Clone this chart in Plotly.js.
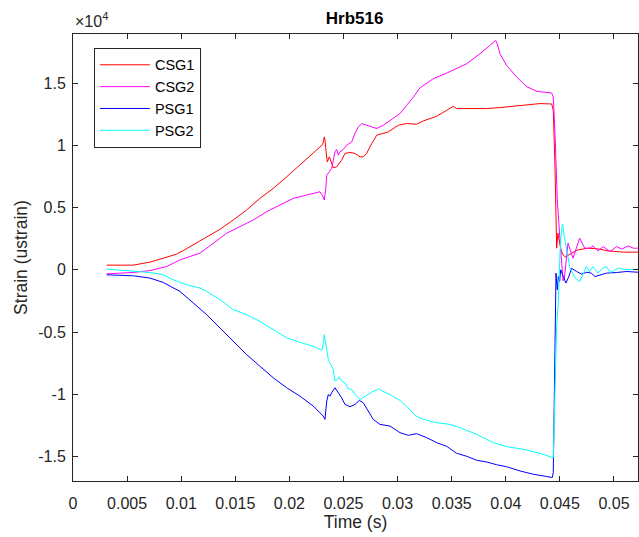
<!DOCTYPE html>
<html>
<head>
<meta charset="utf-8">
<script src="https://cdn.plot.ly/plotly-3.0.1.min.js"></script>
<style>html,body{margin:0;padding:0;background:#fff;}#chart{width:639px;height:537px;}</style>
</head>
<body>
<div id="chart"></div>
<script>
const seriesNames = ["CSG1", "CSG2", "PSG1", "PSG2"];

const csg1T = [0.00311,0.00557,0.00712,0.00835,0.00958,0.01019,0.01112,0.01236,0.01359,0.01481,0.01605,0.01728,0.01851,0.01975,0.02098,0.02221,0.02283,0.02308,0.02323,0.02329,0.02338,0.02350,0.02369,0.02382,0.02391,0.02406,0.02437,0.02483,0.02514,0.02560,0.02606,0.02653,0.02683,0.02714,0.02761,0.02807,0.02914,0.03007,0.03084,0.03176,0.03237,0.03361,0.03454,0.03515,0.03546,0.03669,0.03823,0.03946,0.04069,0.04193,0.04316,0.04424,0.04439,0.04455,0.04464,0.04470,0.04482,0.04498,0.04510,0.04529,0.04550,0.04609,0.04667,0.04760,0.04852,0.04945,0.05086,0.05231];
const csg1V = [377,377,617,937,1258,1547,2003,2620,3261,4007,4808,5745,6547,7476,8414,9351,9880,10072,10681,10417,9616,8678,9079,8814,8550,8197,8277,8814,9351,9431,9351,9079,9079,9351,10152,10818,11082,11619,11755,11699,11963,12340,12821,13141,12957,12957,12957,13037,13141,13278,13358,13326,12821,8277,4007,1739,2941,2139,1603,1202,1040,1338,1603,1739,1683,1522,1418,1418];

const csg2T = [0.00311,0.00557,0.00712,0.00866,0.00989,0.01174,0.01297,0.01420,0.01543,0.01666,0.01790,0.01913,0.02036,0.02160,0.02283,0.02308,0.02323,0.02338,0.02345,0.02369,0.02391,0.02406,0.02421,0.02437,0.02452,0.02468,0.02498,0.02530,0.02576,0.02606,0.02637,0.02668,0.02714,0.02745,0.02807,0.02868,0.02930,0.03022,0.03084,0.03145,0.03207,0.03330,0.03454,0.03546,0.03639,0.03761,0.03854,0.03907,0.03921,0.03946,0.04008,0.04101,0.04193,0.04286,0.04424,0.04439,0.04455,0.04476,0.04501,0.04529,0.04542,0.04575,0.04621,0.04683,0.04729,0.04775,0.04806,0.04852,0.04901,0.04963,0.05025,0.05071,0.05132,0.05178,0.05231];
const csg2V = [-321,-216,-56,264,801,1338,2139,2941,3470,4007,4672,5208,5745,6010,6274,5930,5609,6675,7612,7877,8149,8814,9479,9672,9215,9479,9672,10016,10281,10954,11483,11755,11619,11483,11354,11619,12020,12556,13222,13862,14624,15361,15810,16162,16563,17364,18029,18430,18165,17364,16427,15489,14720,14343,14207,13887,10954,5609,2404,-881,-641,2139,938,2540,1739,1739,1923,1522,1867,1466,1867,1659,1923,1739,1739];

const psg1T = [0.00311,0.00557,0.00712,0.00835,0.00989,0.01112,0.01236,0.01359,0.01481,0.01605,0.01728,0.01851,0.01975,0.02098,0.02221,0.02313,0.02329,0.02345,0.02360,0.02375,0.02391,0.02421,0.02452,0.02483,0.02514,0.02560,0.02606,0.02646,0.02683,0.02729,0.02775,0.02837,0.02930,0.03022,0.03099,0.03176,0.03269,0.03361,0.03454,0.03546,0.03639,0.03731,0.03823,0.03916,0.04008,0.04131,0.04254,0.04378,0.04430,0.04439,0.04455,0.04464,0.04476,0.04486,0.04498,0.04507,0.04532,0.04556,0.04578,0.04609,0.04655,0.04701,0.04748,0.04790,0.04824,0.04870,0.04932,0.05025,0.05117,0.05231];
const psg1V = [-401,-481,-665,-1018,-1739,-2668,-3606,-4672,-5745,-6811,-7749,-8678,-9479,-10152,-10954,-11755,-12020,-10553,-10016,-10152,-9880,-9479,-9880,-10281,-10818,-11002,-10818,-10497,-10681,-11354,-12020,-12420,-12556,-13085,-13302,-13165,-13486,-13887,-14183,-14744,-14984,-15305,-15441,-15665,-15826,-16162,-16427,-16611,-16691,-16291,-7212,-264,-1603,-537,-938,0,-537,-1066,-641,120,-136,-345,-200,-264,-537,-401,-264,-216,-136,-200];

const psg2T = [0.00311,0.00557,0.00712,0.00835,0.00927,0.01051,0.01174,0.01236,0.01359,0.01481,0.01605,0.01728,0.01851,0.01975,0.02098,0.02221,0.02299,0.02313,0.02323,0.02338,0.02360,0.02382,0.02406,0.02421,0.02443,0.02461,0.02483,0.02514,0.02544,0.02576,0.02606,0.02653,0.02699,0.02761,0.02822,0.02884,0.02945,0.03022,0.03084,0.03161,0.03237,0.03361,0.03484,0.03577,0.03731,0.03884,0.04008,0.04162,0.04316,0.04439,0.04455,0.04470,0.04486,0.04501,0.04515,0.04526,0.04538,0.04561,0.04593,0.04639,0.04683,0.04713,0.04744,0.04775,0.04806,0.04852,0.04898,0.04932,0.04963,0.05040,0.05117,0.05231];
const psg2V = [56,-80,-216,-401,-801,-1202,-1466,-1739,-2404,-3205,-3606,-4143,-4808,-5473,-5825,-6146,-6467,-6010,-5208,-6146,-7212,-7612,-8013,-8951,-8814,-8598,-8951,-9079,-9559,-9616,-10016,-10417,-10152,-9832,-9576,-9832,-10096,-10497,-10954,-11699,-12020,-12284,-12420,-12685,-13222,-13887,-14207,-14423,-14744,-15104,-9856,-4543,-2644,1362,3205,3686,2804,1603,160,-641,-938,-401,264,-136,264,-264,136,264,-216,136,0,56];

const xTickVals = [0,0.005,0.01,0.015,0.02,0.025,0.03,0.035,0.04,0.045,0.05];
const xTickText = ["0","0.005","0.01","0.015","0.02","0.025","0.03","0.035","0.04","0.045","0.05"];
const yTickVals = [-15000,-10000,-5000,0,5000,10000,15000];
const yTickText = ["-1.5","-1","-0.5","0","0.5","1","1.5"];

const colors = ["#ff0000","#ff00ff","#0000ff","#00ffff"];
const xs = [csg1T, csg2T, psg1T, psg2T];
const ys = [csg1V, csg2V, psg1V, psg2V];

const traces = seriesNames.map((n,i)=>({
  x: xs[i], y: ys[i], name: n, type: "scatter", mode: "lines",
  line: {color: colors[i], width: 1}
}));

const FONT = "Liberation Sans, Arial, sans-serif";
const axisCommon = {
  showline: true, mirror: "ticks", linecolor: "#262626", linewidth: 1,
  ticks: "inside", ticklen: 5, tickcolor: "#262626", tickwidth: 1,
  showgrid: false, zeroline: false,
  tickfont: {family: FONT, size: 16, color: "#262626"}
};

const layout = {
  width: 639, height: 537,
  margin: {l: 73, r: 1, t: 34, b: 56},
  paper_bgcolor: "#ffffff", plot_bgcolor: "#ffffff",
  font: {family: FONT, color: "#262626"},
  title: {text: "<b>Hrb516</b>", x: 0.555, xanchor: "center", y: 0.966, yanchor: "middle",
          font: {size: 17, color: "#000000", family: FONT}},
  xaxis: Object.assign({}, axisCommon, {
    range: [0, 0.05222], tickvals: xTickVals, ticktext: xTickText, ticklabelstandoff: 8,
    title: {text: "Time (s)", standoff: 3, font: {size: 17.5, color: "#262626"}}
  }),
  yaxis: Object.assign({}, axisCommon, {
    range: [-16970, 18950], tickvals: yTickVals, ticktext: yTickText, ticklabelstandoff: 3,
    title: {text: "Strain (ustrain)", standoff: 6, font: {size: 17.5, color: "#262626"}}
  }),
  showlegend: true,
  legend: {x: 0.037, y: 0.969, xanchor: "left", yanchor: "top",
           bgcolor: "#ffffff", bordercolor: "#262626", borderwidth: 1,
           font: {size: 14.5, color: "#000000", family: FONT}, itemwidth: 50, tracegroupgap: 0},
  annotations: [{
    text: "×10<sup>4</sup>", xref: "paper", yref: "paper", x: 0, y: 1, yshift: 2,
    xanchor: "left", yanchor: "bottom", showarrow: false,
    font: {size: 16, color: "#262626", family: FONT}
  }]
};

Plotly.newPlot("chart", traces, layout, {displayModeBar: false, staticPlot: true});
</script>
</body>
</html>
